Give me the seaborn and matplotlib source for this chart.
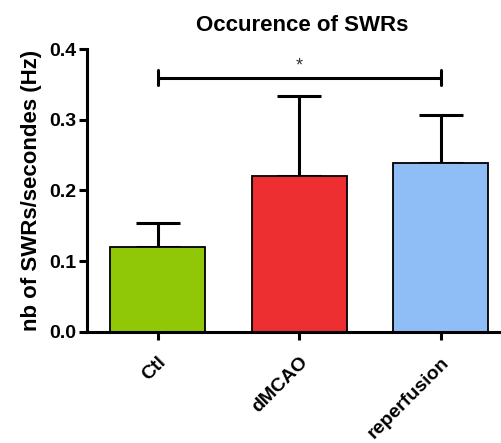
import matplotlib
matplotlib.use("Agg")
import matplotlib.pyplot as plt
import seaborn as sns
import pandas as pd

# Group means and upward SEM of SWR occurrence
groups = ["Ctl", "dMCAO", "reperfusion"]
means = [0.12, 0.221, 0.239]
sem = [0.034, 0.113, 0.068]
colors = ["#90c808", "#ee2f32", "#8fbdf6"]
sig_pair = (0, 2)
sig_y = 0.36
sig_label = "*"

sns.set_theme(style="ticks")
plt.rcParams["font.family"] = ["Liberation Sans", "DejaVu Sans"]
plt.rcParams["font.weight"] = "bold"

df = pd.DataFrame({"group": groups, "rate": means})

fig = plt.figure(figsize=(5.02, 4.43), dpi=100)
ax = fig.add_axes([0.1733, 0.2513, 0.8227, 0.6374])

sns.barplot(data=df, x="group", y="rate", hue="group", palette=colors,
            legend=False, width=0.67, edgecolor="black", linewidth=1.3,
            saturation=1, errorbar=None, ax=ax)

# One-sided error bars (upper only)
ax.errorbar(range(len(groups)), means, yerr=[[0] * len(groups), sem],
            fmt="none", ecolor="black", elinewidth=2.2, capsize=16,
            capthick=2.2, zorder=1)
for b in ax.patches:
    b.set_zorder(2)

# Significance bracket
x0, x1 = sig_pair
ax.plot([x0, x1], [sig_y, sig_y], color="black", lw=2.2)
ax.plot([x0, x0], [sig_y - 0.011, sig_y + 0.011], color="black", lw=2.2)
ax.plot([x1, x1], [sig_y - 0.011, sig_y + 0.011], color="black", lw=2.2)
ax.text((x0 + x1) / 2, sig_y + 0.004, sig_label, ha="center", va="bottom",
        fontsize=13, fontweight="normal", color="#333333")

ax.set_xlim(-0.5, 2.42)
ax.set_ylim(0, 0.4)
ax.set_yticks([0.0, 0.1, 0.2, 0.3, 0.4])
ax.set_yticklabels(["0.0", "0.1", "0.2", "0.3", "0.4"])

for side in ["top", "right"]:
    ax.spines[side].set_visible(False)
for side in ["left", "bottom"]:
    ax.spines[side].set_linewidth(2.2)
    ax.spines[side].set_color("black")
ax.tick_params(axis="both", width=2.2, length=6, color="black",
               labelcolor="black")
ax.tick_params(axis="y", labelsize=14, pad=2)
ax.tick_params(axis="x", labelsize=14, pad=10)

for lab in ax.get_xticklabels():
    lab.set_rotation(45)
    lab.set_ha("right")
    lab.set_rotation_mode("anchor")
    lab.set_fontweight("bold")
for lab in ax.get_yticklabels():
    lab.set_fontweight("bold")

ax.set_xlabel("")
ax.set_ylabel("nb of SWRs/secondes (Hz)", fontsize=16, fontweight="bold",
              color="black", labelpad=5)
ax.set_title("Occurence of SWRs", fontsize=16, fontweight="bold",
             color="black", pad=13, x=0.52)

fig.savefig("out.png", dpi=100, facecolor="white")
